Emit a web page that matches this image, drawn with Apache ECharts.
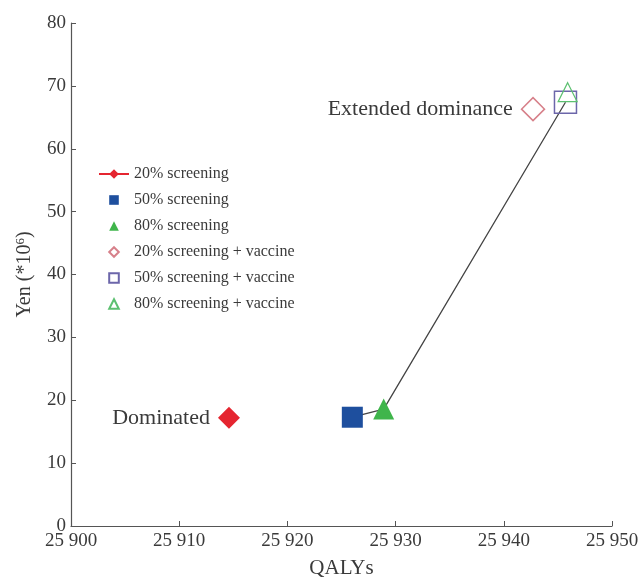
<!DOCTYPE html>
<html>
<head>
  <meta charset="utf-8">
  <title>QALYs vs Yen</title>
  <script src="https://cdn.jsdelivr.net/npm/echarts/dist/echarts.min.js"></script>
  <style>
    body { margin: 0; background: #fff; }
    #chart { width: 638px; height: 580px; }
  </style>
</head>
<body>
  <div id="chart"></div>
  <script>
    // strategies: [QALYs, Yen (*10^6)]
    const names = ['20% screening', '50% screening', '80% screening',
      '20% screening + vaccine', '50% screening + vaccine', '80% screening + vaccine'];
    const qalys = [25914.6, 25926.0, 25928.9, 25942.7, 25945.7, 25945.9];
    const yen = [17.2, 17.3, 18.6, 66.3, 67.4, 69.0];
    // efficiency frontier goes through these strategies (indexes)
    const frontier = [1, 2, 4];
    const notes = ['Dominated', '', '', 'Extended dominance', '', ''];

    const serif = '"Liberation Serif", "DejaVu Serif", serif';
    const fmtX = v => String(v).replace(/(\d+)(\d{3})$/, '$1 $2');

    const styles = [
      { symbol: 'diamond', size: 22, itemStyle: { color: '#e52530' } },
      { symbol: 'rect', size: 21, itemStyle: { color: '#1e4f9e' } },
      { symbol: 'triangle', size: 21, itemStyle: { color: '#3fb54b' } },
      { symbol: 'diamond', size: 23, itemStyle: { color: '#fff', borderColor: '#d7808a', borderWidth: 1.5 } },
      { symbol: 'rect', size: 22, itemStyle: { color: 'rgba(255,255,255,0)', borderColor: '#6c66aa', borderWidth: 1.5 } },
      { symbol: 'triangle', size: 19, itemStyle: { color: 'rgba(255,255,255,0)', borderColor: '#5cc070', borderWidth: 1.2 } }
    ];

    const series = [{
      name: 'frontier',
      type: 'line',
      data: frontier.map(i => [qalys[i], yen[i]]),
      symbol: 'none',
      lineStyle: { color: '#444', width: 1.3 },
      z: 1
    }];
    names.forEach((n, i) => {
      series.push({
        name: n,
        type: 'line',
        data: [[qalys[i], yen[i]]],
        symbol: styles[i].symbol,
        symbolSize: styles[i].size,
        showSymbol: true,
        itemStyle: styles[i].itemStyle,
        lineStyle: { color: i === 0 ? '#e52530' : 'transparent', width: 1 },
        z: 3,
        label: {
          show: notes[i] !== '',
          position: 'left',
          distance: 8,
          formatter: notes[i],
          fontFamily: serif,
          fontSize: 22,
          color: '#3a3a3a'
        }
      });
    });

    const chart = echarts.init(document.getElementById('chart'));
    chart.setOption({
      animation: false,
      grid: { left: 71, right: 26, top: 23, bottom: 54, containLabel: false, outerBoundsMode: 'none' },
      legend: {
        orient: 'vertical',
        left: 93,
        top: 161,
        itemGap: 10,
        itemWidth: 30,
        itemHeight: 12,
        data: names,
        textStyle: { fontFamily: serif, fontSize: 16, lineHeight: 16, color: '#3a3a3a' }
      },
      xAxis: {
        type: 'value',
        min: 25900,
        max: 25950,
        interval: 10,
        name: 'QALYs',
        nameLocation: 'middle',
        nameGap: 32,
        nameTextStyle: { fontFamily: serif, fontSize: 21, color: '#3a3a3a' },
        axisLine: { lineStyle: { color: '#555', width: 1.2 } },
        axisTick: { inside: true, length: 5, lineStyle: { color: '#555' } },
        axisLabel: { formatter: fmtX, fontFamily: serif, fontSize: 19, color: '#3a3a3a', margin: 6 },
        splitLine: { show: false }
      },
      yAxis: {
        type: 'value',
        min: 0,
        max: 80,
        interval: 10,
        name: 'Yen (*10{sup|6})',
        nameLocation: 'middle',
        nameGap: 36,
        nameTextStyle: {
          fontFamily: serif, fontSize: 20, color: '#3a3a3a',
          rich: { sup: { fontFamily: serif, fontSize: 13, color: '#3a3a3a', verticalAlign: 'top', padding: [0, 0, 8, 0] } }
        },
        axisLine: { show: true, lineStyle: { color: '#555', width: 1.2 } },
        axisTick: { show: true, inside: true, length: 5, lineStyle: { color: '#555' } },
        axisLabel: { fontFamily: serif, fontSize: 19, color: '#3a3a3a', margin: 5 },
        splitLine: { show: false }
      },
      series: series
    });
  </script>
</body>
</html>
